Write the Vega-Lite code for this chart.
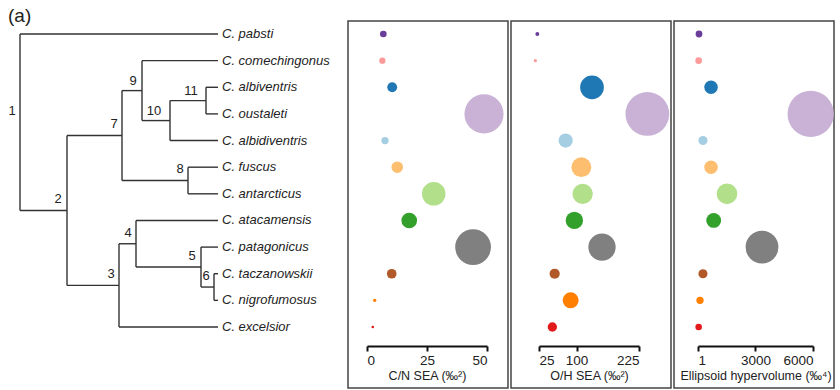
{
  "$schema": "https://vega.github.io/schema/vega-lite/v6.json",
  "padding": {"left": 0, "top": 7, "right": 0, "bottom": 0},
  "title": {"text": "(a)", "anchor": "start", "fontSize": 19, "fontWeight": "normal", "font": "Liberation Sans", "color": "#222", "offset": -6, "dx": 8},
  "datasets": {
    "species": [
      {"sp": "C. pabsti", "row": 1, "depth": 218, "cn": 6.8, "oh": 21.7, "hv": 53},
      {"sp": "C. comechingonus", "row": 2, "depth": 218, "cn": 6.4, "oh": 17.7, "hv": 35},
      {"sp": "C. albiventris", "row": 3, "depth": 218, "cn": 10.5, "oh": 131, "hv": 680},
      {"sp": "C. oustaleti", "row": 4, "depth": 218, "cn": 48.75, "oh": 241.7, "hv": 5880},
      {"sp": "C. albidiventris", "row": 5, "depth": 218, "cn": 7.5, "oh": 78.3, "hv": 260},
      {"sp": "C. fuscus", "row": 6, "depth": 218, "cn": 12.6, "oh": 109.7, "hv": 680},
      {"sp": "C. antarcticus", "row": 7, "depth": 218, "cn": 27.8, "oh": 112.3, "hv": 1513},
      {"sp": "C. atacamensis", "row": 8, "depth": 218, "cn": 17.6, "oh": 95.7, "hv": 819},
      {"sp": "C. patagonicus", "row": 9, "depth": 218, "cn": 44.2, "oh": 151, "hv": 3340},
      {"sp": "C. taczanowskii", "row": 10, "depth": 218, "cn": 10.3, "oh": 56.3, "hv": 260},
      {"sp": "C. nigrofumosus", "row": 11, "depth": 218, "cn": 3.2, "oh": 88.3, "hv": 105},
      {"sp": "C. excelsior", "row": 12, "depth": 218, "cn": 2.4, "oh": 51.7, "hv": 35}
    ],
    "branches": [
      {"x": 20, "x2": 20, "y": 1, "y2": 7.625},
      {"x": 20, "x2": 218, "y": 1, "y2": 1},
      {"x": 20, "x2": 67, "y": 7.625, "y2": 7.625},
      {"x": 67, "x2": 67, "y": 4.8125, "y2": 10.4375},
      {"x": 67, "x2": 122, "y": 4.8125, "y2": 4.8125},
      {"x": 122, "x2": 122, "y": 3.125, "y2": 6.5},
      {"x": 122, "x2": 142, "y": 3.125, "y2": 3.125},
      {"x": 142, "x2": 142, "y": 2, "y2": 4.25},
      {"x": 142, "x2": 218, "y": 2, "y2": 2},
      {"x": 142, "x2": 170, "y": 4.25, "y2": 4.25},
      {"x": 170, "x2": 170, "y": 3.5, "y2": 5},
      {"x": 170, "x2": 206, "y": 3.5, "y2": 3.5},
      {"x": 206, "x2": 206, "y": 3, "y2": 4},
      {"x": 206, "x2": 218, "y": 3, "y2": 3},
      {"x": 206, "x2": 218, "y": 4, "y2": 4},
      {"x": 170, "x2": 218, "y": 5, "y2": 5},
      {"x": 122, "x2": 188, "y": 6.5, "y2": 6.5},
      {"x": 188, "x2": 188, "y": 6, "y2": 7},
      {"x": 188, "x2": 218, "y": 6, "y2": 6},
      {"x": 188, "x2": 218, "y": 7, "y2": 7},
      {"x": 67, "x2": 119, "y": 10.4375, "y2": 10.4375},
      {"x": 119, "x2": 119, "y": 8.875, "y2": 12},
      {"x": 119, "x2": 136, "y": 8.875, "y2": 8.875},
      {"x": 136, "x2": 136, "y": 8, "y2": 9.75},
      {"x": 136, "x2": 218, "y": 8, "y2": 8},
      {"x": 136, "x2": 201, "y": 9.75, "y2": 9.75},
      {"x": 201, "x2": 201, "y": 9, "y2": 10.5},
      {"x": 201, "x2": 218, "y": 9, "y2": 9},
      {"x": 201, "x2": 214, "y": 10.5, "y2": 10.5},
      {"x": 214, "x2": 214, "y": 10, "y2": 11},
      {"x": 214, "x2": 218, "y": 10, "y2": 10},
      {"x": 214, "x2": 218, "y": 11, "y2": 11},
      {"x": 119, "x2": 218, "y": 12, "y2": 12}
    ],
    "nodes": [
      {"label": "1", "x": 12, "y": 3.89},
      {"label": "2", "x": 58, "y": 7.19},
      {"label": "3", "x": 111, "y": 10.01},
      {"label": "4", "x": 128, "y": 8.47},
      {"label": "5", "x": 192, "y": 9.33},
      {"label": "6", "x": 206, "y": 10.08},
      {"label": "7", "x": 114, "y": 4.38},
      {"label": "8", "x": 180, "y": 6.07},
      {"label": "9", "x": 133, "y": 2.77},
      {"label": "10", "x": 154, "y": 3.89},
      {"label": "11", "x": 191, "y": 3.14}
    ]
  },
  "bounds": "flush",
  "spacing": 3,
  "hconcat": [
    {
      "width": 345,
      "height": 367,
      "view": {"stroke": null},
      "layer": [
        {
          "data": {"name": "branches"},
          "mark": {"type": "rule", "color": "#333", "strokeWidth": 1.4},
          "encoding": {
            "x": {"field": "x", "type": "quantitative", "scale": {"domain": [0, 345], "nice": false, "zero": false}, "axis": null},
            "x2": {"field": "x2"},
            "y": {"field": "y", "type": "quantitative", "scale": {"domain": [1, 12], "range": [13, 306], "nice": false, "zero": false}, "axis": null},
            "y2": {"field": "y2"}
          }
        },
        {
          "data": {"name": "species"},
          "mark": {"type": "text", "align": "left", "baseline": "middle", "dx": 4, "fontSize": 13, "fontStyle": "italic", "font": "Liberation Sans", "color": "#222"},
          "encoding": {
            "x": {"field": "depth", "type": "quantitative"},
            "y": {"field": "row", "type": "quantitative"},
            "text": {"field": "sp"}
          }
        },
        {
          "data": {"name": "nodes"},
          "mark": {"type": "text", "align": "center", "baseline": "middle", "fontSize": 13, "font": "Liberation Sans", "color": "#222"},
          "encoding": {
            "x": {"field": "x", "type": "quantitative"},
            "y": {"field": "y", "type": "quantitative"},
            "text": {"field": "label"}
          }
        }
      ]
    },
    {
      "width": 160,
      "height": 367,
      "data": {"name": "species"},
      "mark": {"type": "circle", "opacity": 1},
      "encoding": {
        "x": {"field": "cn", "type": "quantitative", "scale": {"domain": [0, 50], "range": [19, 139], "nice": false, "zero": false},
              "axis": {"values": [0, 25, 50], "offset": -42, "title": "C/N SEA (‰²)"}},
        "y": {"field": "row", "type": "quantitative", "scale": {"domain": [1, 12], "range": [13, 306], "nice": false, "zero": false}, "axis": null},
        "size": {"field": "cn", "type": "quantitative", "scale": {"type": "pow", "exponent": 1.8, "domain": [0, 50], "range": [0, 1600]}, "legend": null},
        "color": {"field": "sp", "type": "nominal", "legend": null,
                  "scale": {"domain": ["C. pabsti", "C. comechingonus", "C. albiventris", "C. oustaleti", "C. albidiventris", "C. fuscus", "C. antarcticus", "C. atacamensis", "C. patagonicus", "C. taczanowskii", "C. nigrofumosus", "C. excelsior"],
                            "range": ["#6a3d9a", "#fb9a99", "#1f78b4", "#cab2d6", "#a6cee3", "#fdbf6f", "#b2df8a", "#33a02c", "#808080", "#b15928", "#ff7f00", "#e31a1c"]}}
      }
    },
    {
      "width": 160,
      "height": 367,
      "data": {"name": "species"},
      "mark": {"type": "circle", "opacity": 1},
      "encoding": {
        "x": {"field": "oh", "type": "quantitative", "scale": {"domain": [25, 225], "range": [28, 128], "nice": false, "zero": false},
              "axis": {"values": [25, 100, 225], "offset": -42, "title": "O/H SEA (‰²)"}},
        "y": {"field": "row", "type": "quantitative", "scale": {"domain": [1, 12], "range": [13, 306], "nice": false, "zero": false}, "axis": null},
        "size": {"field": "oh", "type": "quantitative", "scale": {"type": "pow", "exponent": 2, "domain": [0, 250], "range": [0, 2050]}, "legend": null},
        "color": {"field": "sp", "type": "nominal", "legend": null,
                  "scale": {"domain": ["C. pabsti", "C. comechingonus", "C. albiventris", "C. oustaleti", "C. albidiventris", "C. fuscus", "C. antarcticus", "C. atacamensis", "C. patagonicus", "C. taczanowskii", "C. nigrofumosus", "C. excelsior"],
                            "range": ["#6a3d9a", "#fb9a99", "#1f78b4", "#cab2d6", "#a6cee3", "#fdbf6f", "#b2df8a", "#33a02c", "#808080", "#b15928", "#ff7f00", "#e31a1c"]}}
      }
    },
    {
      "width": 160,
      "height": 367,
      "data": {"name": "species"},
      "mark": {"type": "circle", "opacity": 1},
      "encoding": {
        "x": {"field": "hv", "type": "quantitative", "scale": {"domain": [1, 6000], "range": [24, 139], "nice": false, "zero": false},
              "axis": {"values": [1, 3000, 6000], "format": "d", "offset": -42, "title": "Ellipsoid hypervolume (‰⁴)"}},
        "y": {"field": "row", "type": "quantitative", "scale": {"domain": [1, 12], "range": [13, 306], "nice": false, "zero": false}, "axis": null},
        "size": {"field": "hv", "type": "quantitative", "scale": {"type": "pow", "exponent": 1.25, "domain": [0, 6000], "range": [40, 2200]}, "legend": null},
        "color": {"field": "sp", "type": "nominal", "legend": null,
                  "scale": {"domain": ["C. pabsti", "C. comechingonus", "C. albiventris", "C. oustaleti", "C. albidiventris", "C. fuscus", "C. antarcticus", "C. atacamensis", "C. patagonicus", "C. taczanowskii", "C. nigrofumosus", "C. excelsior"],
                            "range": ["#6a3d9a", "#fb9a99", "#1f78b4", "#cab2d6", "#a6cee3", "#fdbf6f", "#b2df8a", "#33a02c", "#808080", "#b15928", "#ff7f00", "#e31a1c"]}}
      }
    }
  ],
  "resolve": {"scale": {"x": "independent", "y": "independent", "size": "independent"}},
  "config": {
    "font": "Liberation Sans",
    "view": {"stroke": "#444", "strokeWidth": 1.5},
    "axis": {"domainColor": "#111", "domainWidth": 2, "tickColor": "#111", "tickWidth": 2, "tickSize": 5, "grid": false,
             "labelFontSize": 13.5, "labelColor": "#222", "labelPadding": 2, "labelFont": "Liberation Sans",
             "titleFontSize": 12.5, "titleFontWeight": "normal", "titleColor": "#222", "titlePadding": 3, "titleFont": "Liberation Sans"}
  }
}
